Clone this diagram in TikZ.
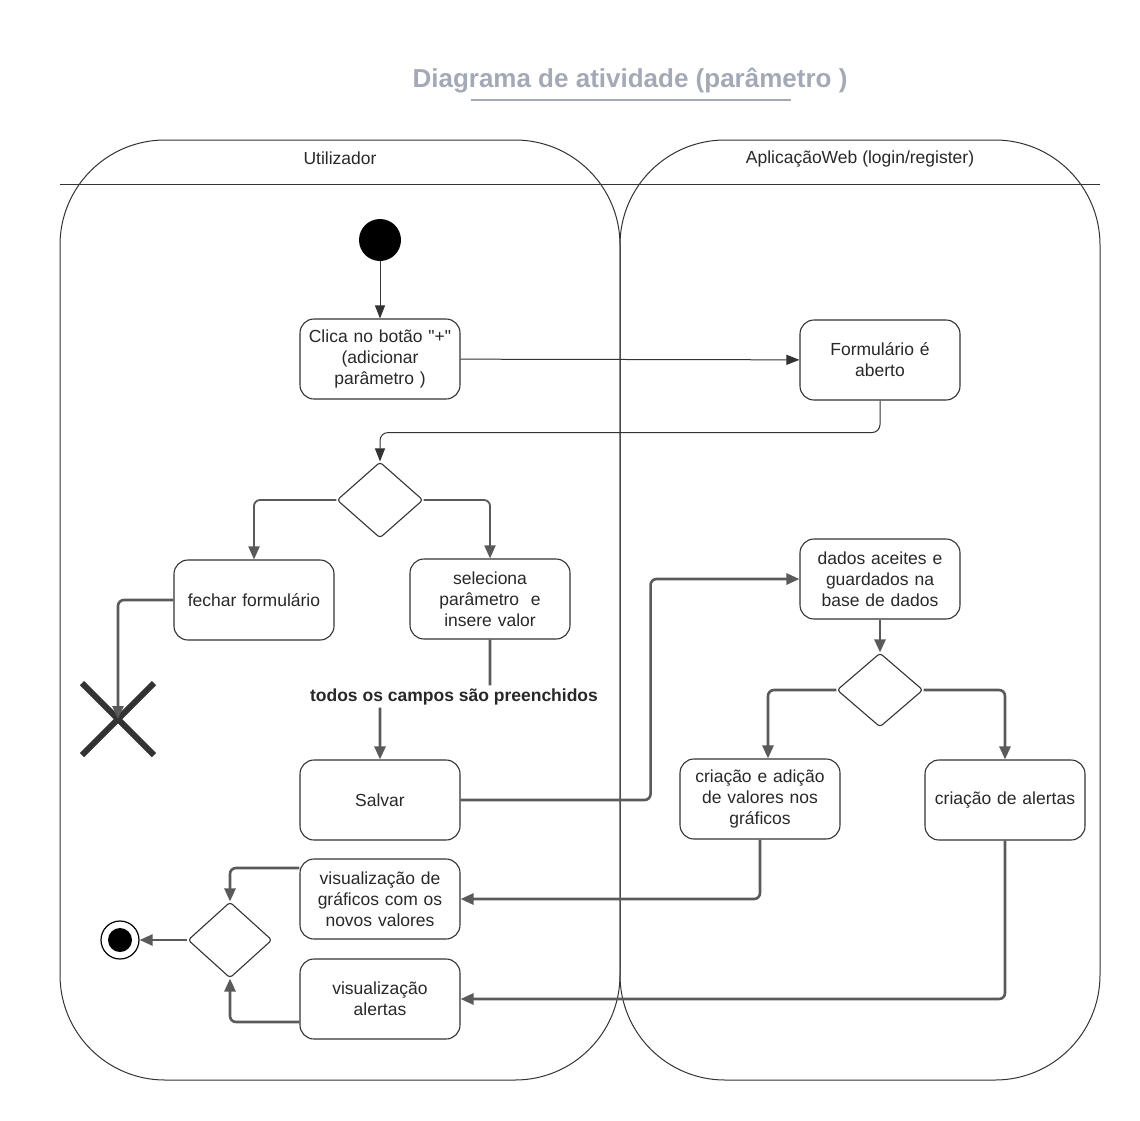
\documentclass[tikz,border=0pt]{standalone}
\usepackage{fontspec}
\setmainfont{Liberation Sans}
\usetikzlibrary{arrows.meta, shapes.geometric, shapes.misc, positioning, calc}
\definecolor{linecol}{RGB}{51,51,51}
\definecolor{flowcol}{RGB}{90,90,90}
\definecolor{titlecol}{RGB}{163,169,181}
\definecolor{textcol}{RGB}{40,40,40}

\tikzset{
  activity/.style={rectangle, rounded corners=14pt, draw=linecol, line width=1.1pt,
    minimum width=160pt, minimum height=80pt, text width=152pt, align=center,
    text=textcol, font=\fontsize{17.5}{21}\selectfont},
  decision/.style={diamond, draw=linecol, line width=1.1pt, minimum width=86pt,
    minimum height=76pt, inner sep=0pt, rounded corners=3pt},
  lane/.style={draw=linecol, line width=1pt, rounded corners=105pt},
  lanelabel/.style={text=textcol, font=\fontsize{17.5}{21}\selectfont},
  thinflow/.style={draw=linecol, line width=1pt, -{Triangle[length=13pt,width=10pt]}, rounded corners=8pt},
  flow/.style={draw=flowcol, line width=2.6pt, -{Triangle[length=13pt,width=11pt]}, rounded corners=6pt},
  guard/.style={fill=white, inner sep=3pt, text=textcol, font=\fontsize{17.5}{21}\selectfont\bfseries}
}

\begin{document}
\begin{tikzpicture}[x=1pt,y=-1pt]
  \useasboundingbox (0,0) rectangle (1140,1120);

  % title
  \node[text=titlecol, font=\fontsize{26}{30}\selectfont\bfseries] (titulo) at (630,81) {Diagrama de atividade (parâmetro )};
  \draw[titlecol, line width=2pt] (471,100) -- (791,100);

  % swimlanes
  \draw[lane] (60,140) rectangle (620,1080);
  \draw[lane] (620,140) rectangle (1100,1080);
  \draw[linecol, line width=1pt] (60,184) -- (1100,184);
  \node[lanelabel] (utilizador) at (340,158) {Utilizador};
  \node[lanelabel] (aplicacao) at (860,159) {AplicaçãoWeb (login/register)};

  % nodes
  \node[circle, fill=black, minimum size=42pt, inner sep=0pt] (inicio) at (380,240) {};
  \node[activity] (clica) at (380,359) {Clica no botão \textquotedbl+\textquotedbl\\(adicionar\\parâmetro )};
  \node[activity] (formulario) at (880,360) {Formulário é\\aberto};
  \node[decision] (dec1) at (380,500) {};
  \node[activity] (fechar) at (254,600) {fechar formulário};
  \node[activity] (seleciona) at (490,599) {seleciona\\parâmetro~ e\\insere valor};
  \node[cross out, draw=linecol, line width=6pt, minimum size=66pt] (paragem) at (118,719) {};
  \node[activity] (salvar) at (380,800) {Salvar};
  \node[activity] (dados) at (880,579) {dados aceites e\\guardados na\\base de dados};
  \node[decision, minimum height=74pt] (dec2) at (880,690) {};
  \node[activity] (graficos) at (760,799) {criação e adição\\de valores nos\\gráficos};
  \node[activity] (alertas) at (1005,800) {criação de alertas};
  \node[activity] (visgraf) at (380,899) {visualização de\\gráficos com os\\novos valores};
  \node[activity] (visalert) at (380,999) {visualização\\alertas};
  \node[decision, minimum width=84pt] (juncao) at (230,940) {};
  \node[circle, draw=black, line width=1.2pt, minimum size=38pt, inner sep=0pt,
    path picture={\fill[black] (path picture bounding box.center) circle (12pt);}] (fim) at (120,940) {};

  % connectors
  \draw[thinflow] (inicio) -- (clica);
  \draw[thinflow] (clica) -- (formulario);
  \draw[thinflow] (formulario.south) -- ++(0,32) -| (dec1.north);
  \draw[flow, line width=1.8pt] (dec1.west) -| (fechar.north);
  \draw[flow, line width=1.8pt] (dec1.east) -| (seleciona.north);
  \draw[flow] (fechar.west) -| (paragem.center);
  \draw[flow] (seleciona.south) -- ++(0,57) -- node[guard, xshift=19pt] (condicao) {todos os campos são preenchidos} ++(-110,0) -- (salvar.north);
  \draw[flow] (salvar.east) -- ++(190,0) |- (dados.west);
  \draw[flow] (dados) -- (dec2);
  \draw[flow] (dec2.west) -| ([xshift=8pt]graficos.north);
  \draw[flow] (dec2.east) -| (alertas.north);
  \draw[flow] (graficos.south) |- (visgraf.east);
  \draw[flow] (alertas.south) |- (visalert.east);
  \draw[flow] ([yshift=31pt]visgraf.west) -| (juncao.north);
  \draw[flow] ([yshift=-23pt]visalert.west) -| (juncao.south);
  \draw[flow] (juncao.west) -- (fim);
\end{tikzpicture}
\end{document}
